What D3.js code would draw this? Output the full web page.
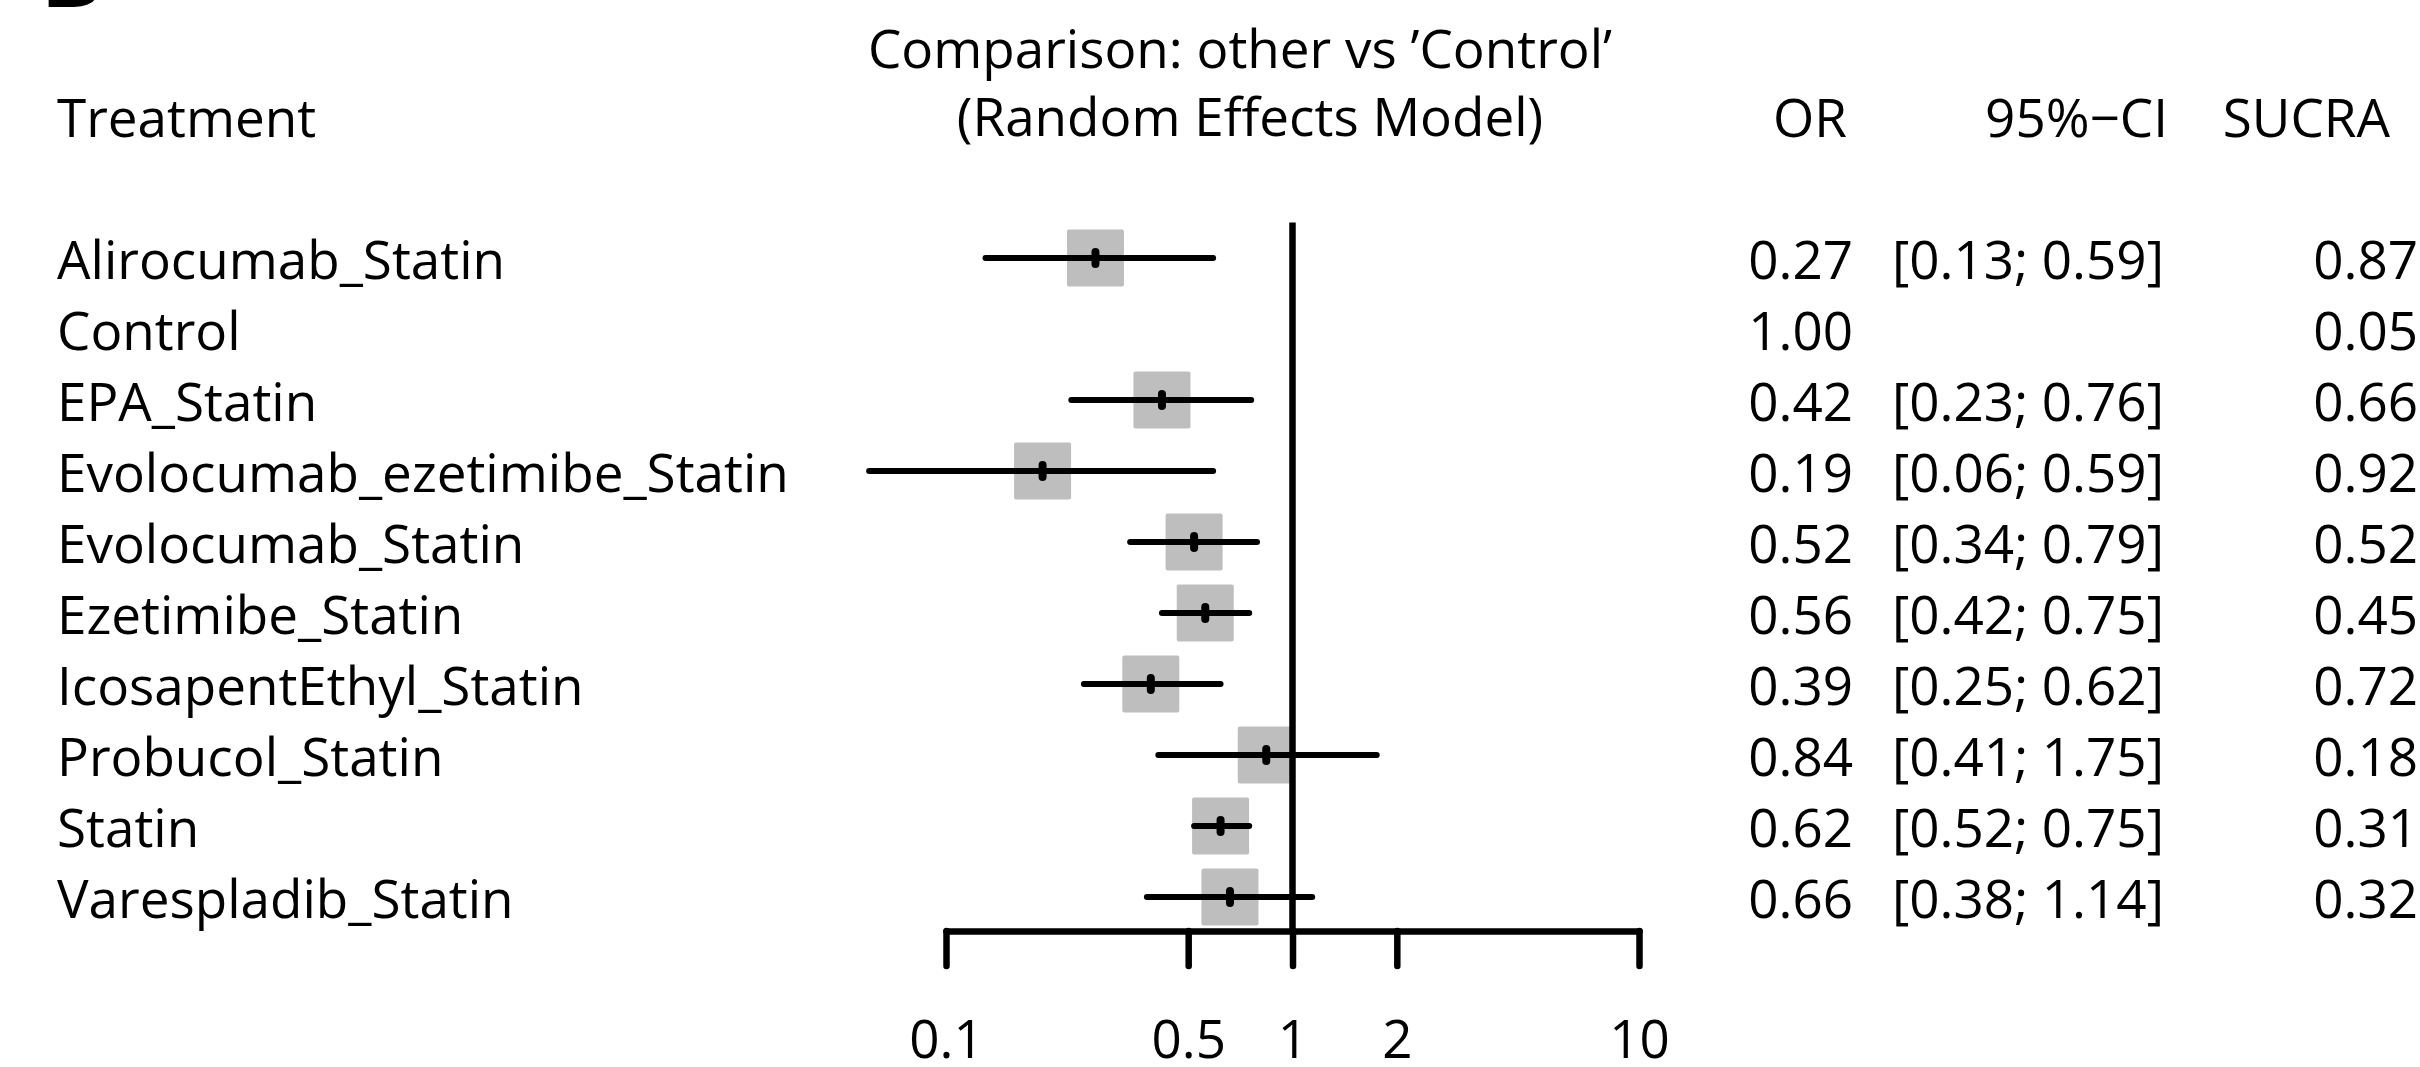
<!DOCTYPE html>
<html>
<head>
<meta charset="utf-8">
<script src="https://cdn.jsdelivr.net/npm/d3@7"></script>
<style>
  body { margin: 0; background: #fff; }
  svg text { font-family: "Open Sans", "Noto Sans", sans-serif; fill: #000; }
</style>
</head>
<body>
<svg class="forest__svg" width="2420" height="1067"></svg>
<script>
// chart data
const treatments = [
    'Alirocumab_Statin', 'Control', 'EPA_Statin', 'Evolocumab_ezetimibe_Statin',
    'Evolocumab_Statin', 'Ezetimibe_Statin', 'IcosapentEthyl_Statin',
    'Probucol_Statin', 'Statin', 'Varespladib_Statin'
];
const oddsRatios = [0.27, 1.00, 0.42, 0.19, 0.52, 0.56, 0.39, 0.84, 0.62, 0.66];
const ciLower = [0.13, null, 0.23, 0.06, 0.34, 0.42, 0.25, 0.41, 0.52, 0.38];
const ciUpper = [0.59, null, 0.76, 0.59, 0.79, 0.75, 0.62, 1.75, 0.75, 1.14];
const sucra = [0.87, 0.05, 0.66, 0.92, 0.52, 0.45, 0.72, 0.18, 0.31, 0.32];
const tickValues = [0.1, 0.5, 1, 2, 10];
const tickLabels = ['0.1', '0.5', '1', '2', '10'];

const svg = d3.select('.forest__svg');
const fontSize = 53;
const lineWidth = 6.5;
const fmt = d3.format('.2f');

// log scale for the odds ratio
const x = d3.scaleLog().domain([0.1, 10]).range([946, 1639]);

// one row per treatment
const y = d3.scalePoint().domain(treatments).range([258, 897]);
const rowStep = y.step();

const rows = treatments.map((t, i) => ({
    name: t,
    or: oddsRatios[i],
    lo: ciLower[i],
    hi: ciUpper[i],
    sucra: sucra[i]
}));

// white background
svg.append('rect').attr('width', 2420).attr('height', 1067).attr('fill', '#fff');

// panel letter, cut off at the top edge
svg.append('text')
    .attr('x', 40).attr('y', 7)
    .attr('font-size', 96).attr('font-weight', 'bold')
    .text('B');

// headers
const header = svg.append('g').attr('font-size', fontSize);
header.append('text').attr('x', 57).attr('y', 137).text('Treatment');
header.append('text').attr('x', 1240).attr('y', 68).attr('text-anchor', 'middle')
    .text('Comparison: other vs \u2019Control\u2019');
header.append('text').attr('x', 1250).attr('y', 136).attr('text-anchor', 'middle')
    .text('(Random Effects Model)');
header.append('text').attr('x', 1847).attr('y', 137).attr('text-anchor', 'end').text('OR');
header.append('text').attr('x', 2168).attr('y', 137).attr('text-anchor', 'end').text('95%\u2212CI');
header.append('text').attr('x', 2390).attr('y', 137).attr('text-anchor', 'end').text('SUCRA');

// squares, confidence lines and point marks
const withCI = rows.filter(d => d.lo !== null);
const marks = svg.append('g');

marks.selectAll('.square')
    .data(withCI)
    .join('rect')
    .attr('class', 'square')
    .attr('x', d => x(d.or) - 28.5)
    .attr('y', d => y(d.name) - 28.5)
    .attr('width', 57)
    .attr('height', 57)
    .attr('rx', 2)
    .attr('fill', '#bebebe');

// reference line at OR = 1
svg.append('line')
    .attr('x1', x(1)).attr('x2', x(1))
    .attr('y1', y(treatments[0]) - rowStep / 2)
    .attr('y2', y(treatments[treatments.length - 1]) + rowStep / 2)
    .attr('stroke', '#000').attr('stroke-width', lineWidth);

marks.selectAll('.ci')
    .data(withCI)
    .join('line')
    .attr('class', 'ci')
    .attr('x1', d => x(d.lo))
    .attr('x2', d => x(d.hi))
    .attr('y1', d => y(d.name))
    .attr('y2', d => y(d.name))
    .attr('stroke', '#000')
    .attr('stroke-width', 6)
    .attr('stroke-linecap', 'round');

marks.selectAll('.point')
    .data(withCI)
    .join('line')
    .attr('class', 'point')
    .attr('x1', d => x(d.or))
    .attr('x2', d => x(d.or))
    .attr('y1', d => y(d.name) - 6)
    .attr('y2', d => y(d.name) + 6)
    .attr('stroke', '#000')
    .attr('stroke-width', 8)
    .attr('stroke-linecap', 'round');

// text columns
const table = svg.append('g').attr('font-size', fontSize);
const baseline = 21;

table.selectAll('.label')
    .data(rows)
    .join('text')
    .attr('class', 'label')
    .attr('x', 57)
    .attr('y', d => y(d.name) + baseline)
    .text(d => d.name);

table.selectAll('.orText')
    .data(rows)
    .join('text')
    .attr('class', 'orText')
    .attr('x', 1853)
    .attr('y', d => y(d.name) + baseline)
    .attr('text-anchor', 'end')
    .text(d => fmt(d.or));

table.selectAll('.ciText')
    .data(withCI)
    .join('text')
    .attr('class', 'ciText')
    .attr('x', 2164)
    .attr('y', d => y(d.name) + baseline)
    .attr('text-anchor', 'end')
    .text(d => '[' + fmt(d.lo) + '; ' + fmt(d.hi) + ']');

table.selectAll('.sucraText')
    .data(rows)
    .join('text')
    .attr('class', 'sucraText')
    .attr('x', 2418)
    .attr('y', d => y(d.name) + baseline)
    .attr('text-anchor', 'end')
    .text(d => fmt(d.sucra));

// bottom axis
const axis = d3.axisBottom(x)
    .tickValues(tickValues)
    .tickFormat((d, i) => tickLabels[i])
    .tickSize(35)
    .tickSizeOuter(0)
    .tickPadding(54);

const gAxis = svg.append('g')
    .attr('transform', 'translate(0,931)')
    .call(axis);

gAxis.select('.domain').attr('stroke-width', lineWidth).attr('stroke-linecap', 'round');
gAxis.selectAll('.tick line').attr('stroke-width', lineWidth).attr('stroke-linecap', 'round');
gAxis.selectAll('.tick text')
    .attr('font-size', fontSize)
    .attr('font-family', '"Open Sans", "Noto Sans", sans-serif')
    .attr('fill', '#000');
</script>
</body>
</html>
